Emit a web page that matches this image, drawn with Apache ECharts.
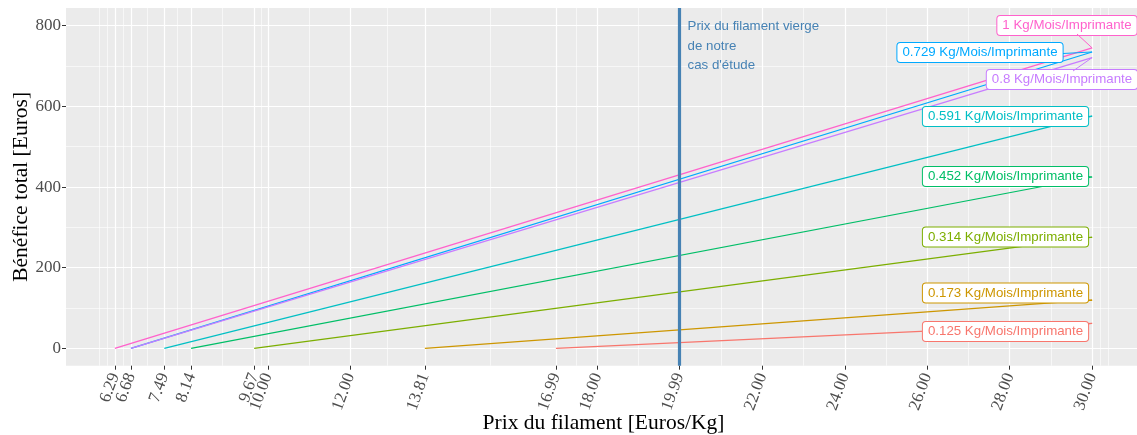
<!DOCTYPE html>
<html>
<head>
<meta charset="utf-8">
<script src="https://cdn.jsdelivr.net/npm/echarts@6/dist/echarts.min.js"></script>
<style>
html,body{margin:0;padding:0;background:#fff;}
#chart{width:1137px;height:435px;}
</style>
</head>
<body>
<div id="chart"></div>
<script>
// ---- data ----
const categories = ['0.125', '0.173', '0.314', '0.452', '0.591', '0.729', '0.8', '1'];
const startPrice = [16.99, 13.81, 9.67, 8.14, 7.49, 6.68, 6.68, 6.29];
const endPrice = 30;
const endBenefit = [62, 120, 276, 425, 576, 735, 721, 745];
const xTicks = [6.29, 6.68, 7.49, 8.14, 9.67, 10.00, 12.00, 13.81, 16.99, 18.00, 19.99, 22.00, 24.00, 26.00, 28.00, 30.00];
const yTicks = [0, 200, 400, 600, 800];
const studyPrice = 19.99;
const studyText = "Prix du filament vierge\nde notre\ncas d'étude";

// ---- styles ----
const colors = ['#F8766D', '#CD9600', '#7CAE00', '#00BE67', '#00BFC4', '#00A9FF', '#C77CFF', '#FF61CC'];
// label box centres (px) and connector end on the box (px), ggrepel-like placement
const labelPos = [
  [1005.5, 331.5], [1005.5, 293], [1005.5, 237], [1005.5, 176.5],
  [1005.5, 116.5], [980, 52.5], [1062, 79.5], [1067, 25.5]
];
const connectorEnd = [
  [1088, 324], [1088, 300], [1088, 237], [1088, 176.5],
  [1088, 116.5], [1063, 53.5], [1073, 71], [1077, 34]
];
const X_MIN = 5.1045, X_MAX = 31.1855, Y_MIN = -43, Y_MAX = 844;
const serif = 'Liberation Serif';
const sans = 'Liberation Sans';

// minor grid positions (ggplot style: midpoints incl. extended breaks)
function minorOf(b, lo, hi) {
  const bd = b[1] - b[0];
  let ext = b.slice();
  if (lo < b[0]) ext = [b[0] - bd].concat(ext);
  if (hi > b[b.length - 1]) ext = ext.concat([b[b.length - 1] + bd]);
  const out = [];
  for (let i = 0; i < ext.length; i++) {
    out.push(ext[i]);
    if (i < ext.length - 1) out.push((ext[i] + ext[i + 1]) / 2);
  }
  return out.filter(v => v >= lo && v <= hi);
}
const xMinor = minorOf(xTicks, X_MIN, X_MAX);
const yMinor = minorOf(yTicks, Y_MIN, Y_MAX);

const series = [];
categories.forEach((c, i) => {
  const col = colors[i];
  const lp = labelPos[i];
  const ce = connectorEnd[i];
  series.push({
    name: c + ' Kg/Mois/Imprimante',
    type: 'line',
    z: 3,
    animation: false,
    showSymbol: true,
    symbol: 'circle',
    symbolSize: 0,
    lineStyle: {color: col, width: 1.2},
    itemStyle: {color: col},
    data: [
      [startPrice[i], 0],
      {value: [endPrice, endBenefit[i]], label: {show: true}}
    ],
    label: {
      show: false,
      formatter: c + ' Kg/Mois/Imprimante',
      color: col,
      fontFamily: sans,
      fontSize: 13.3,
      lineHeight: 13,
      backgroundColor: '#ffffff',
      borderColor: col,
      borderWidth: 1,
      borderRadius: 3,
      padding: [3, 5, 3, 5]
    },
    labelLayout: function () {
      return {x: lp[0], y: lp[1], align: 'center', verticalAlign: 'middle'};
    },
    markLine: {
      silent: true, animation: false, symbol: ['none', 'none'],
      label: {show: false},
      lineStyle: {color: col, width: 1, type: 'solid'},
      data: [[{coord: [endPrice, endBenefit[i]]}, {x: ce[0], y: ce[1]}]]
    }
  });
});

series.push({
  name: 'study', type: 'line', data: [], z: 4, animation: false, silent: true,
  markLine: {
    silent: true, symbol: ['none', 'none'], animation: false,
    label: {show: false},
    lineStyle: {color: '#4682B4', width: 3.2, type: 'solid'},
    data: [{xAxis: studyPrice}]
  },
  markPoint: {
    silent: true, animation: false,
    symbol: 'rect', symbolSize: 0,
    itemStyle: {color: 'rgba(0,0,0,0)'},
    data: [{
      coord: [studyPrice, Y_MAX],
      label: {
        show: true,
        formatter: studyText,
        position: [8, 9],
        align: 'left',
        verticalAlign: 'top',
        color: '#4682B4',
        fontFamily: sans,
        fontSize: 13.3,
        lineHeight: 19.5
      }
    }]
  }
});

const xLabelStyle = {
  rotate: 70, margin: 8,
  fontFamily: serif, fontSize: 17, color: '#4D4D4D',
  formatter: v => v.toFixed(2)
};
const xFirst = xTicks.slice(0, 1);
const xRest = xTicks.slice(1);
const majorGrid = {show: true, lineStyle: {color: '#ffffff', width: 1.2, type: 'solid'}};
const minorGrid = {show: true, lineStyle: {color: '#ffffff', width: 0.6, type: 'solid'}};
const noLine = {show: false, onZero: false};

const chart = echarts.init(document.getElementById('chart'), null, {renderer: 'canvas'});
chart.setOption({
  animation: false,
  backgroundColor: '#ffffff',
  grid: {
    left: 66, top: 8, width: 1075, height: 357.7,
    outerBoundsMode: 'none',
    show: true, backgroundColor: '#EBEBEB', borderWidth: 0, containLabel: false
  },
  xAxis: [{
    // minor grid only
    type: 'value', min: X_MIN, max: X_MAX, position: 'bottom',
    axisLine: noLine, axisLabel: {show: false},
    axisTick: {show: false, customValues: xMinor},
    splitLine: minorGrid
  }, {
    type: 'value', min: X_MIN, max: X_MAX, position: 'bottom', offset: 0,
    name: 'Prix du filament [Euros/Kg]',
    nameLocation: 'middle', nameGap: 47, nameMoveOverlap: false,
    nameTextStyle: {fontFamily: serif, fontSize: 21.5, color: '#000'},
    axisLine: noLine,
    splitLine: majorGrid,
    axisTick: {show: true, length: 4, customValues: xRest, lineStyle: {color: '#333', width: 1}},
    axisLabel: Object.assign({customValues: xRest}, xLabelStyle)
  }, {
    type: 'value', min: X_MIN, max: X_MAX, position: 'bottom', offset: 0,
    axisLine: noLine,
    splitLine: majorGrid,
    axisTick: {show: true, length: 4, customValues: xFirst, lineStyle: {color: '#333', width: 1}},
    axisLabel: Object.assign({customValues: xFirst}, xLabelStyle)
  }],
  yAxis: [{
    type: 'value', min: Y_MIN, max: Y_MAX, position: 'left',
    axisLine: noLine, axisLabel: {show: false},
    axisTick: {show: false, customValues: yMinor},
    splitLine: minorGrid
  }, {
    type: 'value', min: Y_MIN, max: Y_MAX, position: 'left', offset: 0,
    name: 'Bénéfice total [Euros]',
    nameLocation: 'middle', nameGap: 34, nameRotate: 90, nameMoveOverlap: false,
    nameTextStyle: {fontFamily: serif, fontSize: 21.5, color: '#000'},
    axisLine: noLine,
    splitLine: majorGrid,
    axisTick: {show: true, length: 4, customValues: yTicks, lineStyle: {color: '#333', width: 1}},
    axisLabel: {
      customValues: yTicks, margin: 5,
      fontFamily: serif, fontSize: 17, color: '#4D4D4D',
      formatter: v => String(v)
    }
  }],
  series: series.map(s => Object.assign({xAxisIndex: 1, yAxisIndex: 1}, s))
});
</script>
</body>
</html>
